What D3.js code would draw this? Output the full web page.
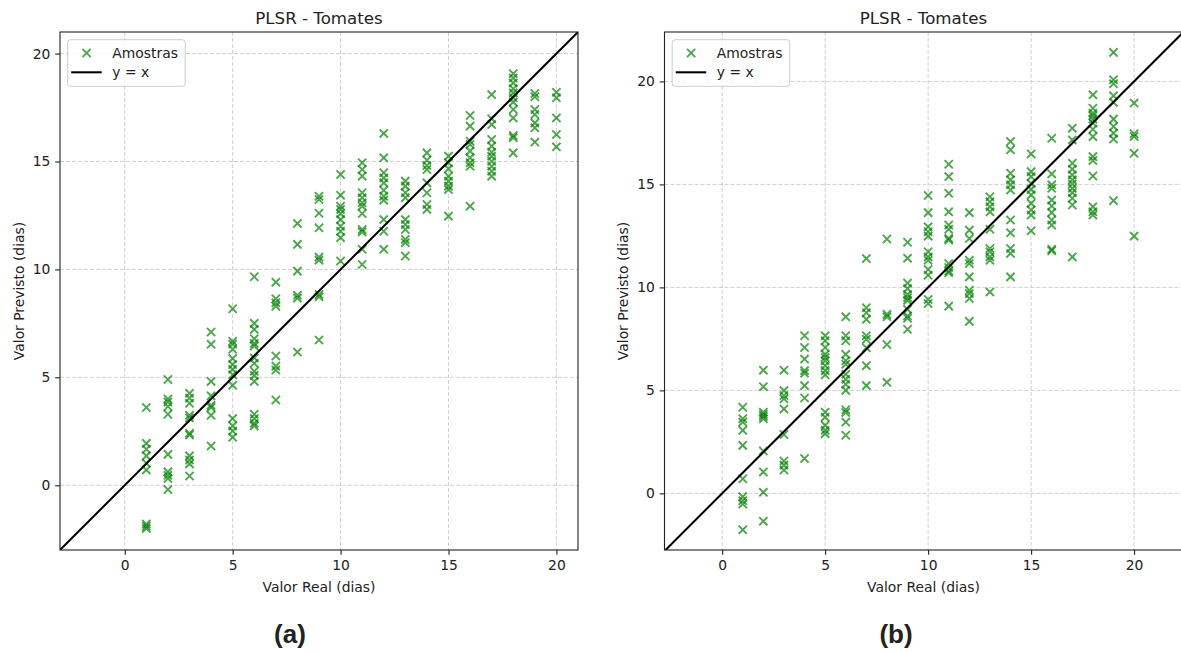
<!DOCTYPE html>
<html>
<head>
<meta charset="utf-8">
<script src="https://cdn.jsdelivr.net/npm/d3@7"></script>
<style>
  html, body { margin: 0; padding: 0; background: #ffffff; }
  svg { display: block; }
  text { font-family: "DejaVu Sans", sans-serif; fill: #222; }
</style>
</head>
<body>
<script>
// ---------------- data ----------------
const titleText = "PLSR - Tomates";
const xLabelText = "Valor Real (dias)";
const yLabelText = "Valor Previsto (dias)";
const legendLabels = ["Amostras", "y = x"];
const panelLabels = ["(a)", "(b)"];
const tickValues = [0, 5, 10, 15, 20];
const diasReais = [1, 2, 3, 4, 5, 6, 7, 8, 9, 10, 11, 12, 13, 14, 15, 16, 17, 18, 19, 20];

// predicted values for panel (a), one list per real day
const previstoA = [
  [3.6, 1.94, 1.67, 1.36, 1.02, 0.71, -1.8, -1.9, -2.0],
  [4.9, 4.0, 3.86, 3.65, 3.29, 1.43, 0.62, 0.46, 0.31, -0.2],
  [4.26, 4.04, 3.8, 3.24, 3.12, 2.41, 2.33, 1.36, 1.17, 0.99, 0.43],
  [7.1, 6.53, 4.81, 4.14, 3.7, 3.6, 3.24, 1.82],
  [8.18, 6.67, 6.54, 6.3, 5.87, 5.59, 5.37, 5.12, 4.63, 3.09, 2.75, 2.51, 2.22],
  [9.66, 7.5, 7.22, 6.79, 6.57, 6.45, 5.9, 5.65, 5.28, 5.09, 4.81, 3.29, 3.09, 2.87, 2.75],
  [9.41, 8.64, 8.46, 8.3, 5.99, 5.52, 5.34, 3.95],
  [12.13, 11.16, 9.92, 8.8, 8.67, 6.17],
  [13.39, 13.24, 12.6, 11.93, 10.57, 10.43, 8.84, 8.73, 6.73],
  [14.4, 13.44, 12.93, 12.78, 12.58, 12.31, 12.0, 11.77, 11.47, 10.39],
  [14.94, 14.63, 14.32, 13.55, 13.32, 13.09, 12.93, 12.59, 11.85, 11.74, 10.93, 10.23],
  [16.3, 15.17, 14.48, 14.24, 14.01, 13.67, 13.39, 13.21, 12.31, 11.77, 10.93],
  [14.09, 13.86, 13.55, 13.32, 12.31, 12.08, 11.85, 11.39, 11.24, 10.62],
  [15.4, 15.06, 14.81, 14.63, 14.01, 13.55, 13.01, 12.78],
  [15.25, 14.94, 14.66, 14.32, 14.09, 13.86, 13.7, 12.47],
  [17.13, 16.64, 15.94, 15.79, 15.48, 15.17, 14.94, 14.78, 12.93],
  [18.1, 16.98, 16.71, 16.02, 15.71, 15.43, 15.25, 15.01, 14.78, 14.55, 14.32],
  [19.07, 18.87, 18.64, 18.37, 18.18, 17.95, 17.75, 17.41, 17.02, 16.2, 16.1, 15.4],
  [18.15, 18.0, 17.41, 17.18, 16.79, 16.56, 15.9],
  [18.21, 17.95, 17.02, 16.25, 15.68]
];

// predicted values for panel (b), one list per real day
const previstoB = [
  [4.18, 3.62, 3.46, 3.06, 2.33, 0.71, -0.16, -0.36, -0.52, -1.77],
  [5.98, 5.18, 3.94, 3.83, 3.73, 3.62, 2.06, 1.04, 0.05, -1.35],
  [5.98, 4.99, 4.75, 4.59, 4.1, 2.86, 1.57, 1.37, 1.13],
  [7.65, 7.08, 6.52, 5.96, 5.83, 5.23, 4.63, 1.69],
  [7.65, 7.41, 7.08, 6.75, 6.6, 6.44, 6.2, 5.96, 5.76, 3.94, 3.7, 3.3, 3.06, 2.9],
  [8.57, 7.65, 7.41, 6.75, 6.44, 6.27, 5.78, 5.54, 5.3, 5.0, 4.06, 3.93, 3.46, 2.82],
  [11.4, 9.01, 8.77, 8.45, 7.65, 7.48, 7.07, 6.2, 5.23],
  [12.35, 8.69, 8.57, 7.23, 5.39],
  [12.19, 11.42, 10.21, 9.94, 9.65, 9.5, 9.37, 8.93, 8.61, 8.5, 7.97],
  [14.46, 13.63, 12.94, 12.7, 12.49, 11.73, 11.48, 11.32, 10.87, 10.59, 9.41, 9.22],
  [15.98, 15.38, 14.57, 13.67, 13.03, 12.82, 12.38, 12.3, 11.16, 10.97, 10.8, 10.71, 9.09],
  [13.63, 12.78, 12.37, 11.32, 11.16, 10.51, 9.86, 9.7, 9.46, 8.35],
  [14.4, 14.16, 13.92, 13.67, 12.82, 11.89, 11.73, 11.48, 11.32, 9.78],
  [17.08, 16.68, 15.54, 15.22, 14.98, 14.73, 13.27, 12.65, 11.89, 11.65, 10.51],
  [16.48, 15.62, 15.38, 15.05, 14.76, 14.49, 14.08, 13.76, 13.51, 12.75],
  [17.24, 15.51, 14.98, 14.81, 14.24, 13.95, 13.63, 13.27, 13.03, 11.85, 11.78],
  [17.73, 17.16, 16.03, 15.74, 15.46, 15.22, 15.02, 14.81, 14.6, 14.33, 14.0, 11.48],
  [19.35, 18.7, 18.46, 18.33, 18.17, 17.98, 17.68, 17.32, 16.35, 16.16, 15.41, 13.92, 13.67, 13.51],
  [21.41, 20.08, 19.89, 19.3, 18.98, 18.17, 17.81, 17.49, 17.2, 14.21],
  [18.95, 17.46, 17.33, 16.51, 12.49]
];

// axis limits
const limitsA = { x: [-3, 21], y: [-3, 21] };
const limitsB = { x: [-2.8, 22.35], y: [-2.75, 22.4] };

// ---------------- drawing ----------------
const W = 1181, H = 652;
const svg = d3.select("body").append("svg").attr("width", W).attr("height", H);

const FS = 13.89;
const tickLen = 4.86, tickPad = 4.86;
const green = "#008000";

function toPoints(pred) {
  const pts = [];
  diasReais.forEach((d, i) => pred[i].forEach(v => pts.push({ x: d, y: v })));
  return pts;
}

function xMarker(s) {
  return `M${-s},${-s}L${s},${s}M${-s},${s}L${s},${-s}`;
}

function drawPanel(id, left, top, width, height, limits, pred, panelLabel, panelCx) {
  const g = svg.append("g");
  const x = d3.scaleLinear().domain(limits.x).range([left, left + width]);
  const y = d3.scaleLinear().domain(limits.y).range([top + height, top]);

  const clipId = "clip" + id;
  svg.append("clipPath").attr("id", clipId)
    .append("rect").attr("x", left).attr("y", top).attr("width", width).attr("height", height);

  // grid
  const grid = g.append("g").attr("clip-path", `url(#${clipId})`);
  grid.selectAll("line.gx").data(tickValues).join("line")
    .attr("x1", d => x(d)).attr("x2", d => x(d))
    .attr("y1", top).attr("y2", top + height)
    .attr("stroke", "#b0b0b0").attr("stroke-opacity", 0.6)
    .attr("stroke-width", 1).attr("stroke-dasharray", "4,2");
  grid.selectAll("line.gy").data(tickValues).join("line")
    .attr("y1", d => y(d)).attr("y2", d => y(d))
    .attr("x1", left).attr("x2", left + width)
    .attr("stroke", "#b0b0b0").attr("stroke-opacity", 0.6)
    .attr("stroke-width", 1).attr("stroke-dasharray", "4,2");

  // points
  const pts = toPoints(pred);
  const plot = g.append("g").attr("clip-path", `url(#${clipId})`);
  plot.selectAll("path.pt").data(pts).join("path")
    .attr("class", "pt")
    .attr("transform", d => `translate(${x(d.x)},${y(d.y)})`)
    .attr("d", xMarker(4.1))
    .attr("stroke", green).attr("stroke-opacity", 0.7)
    .attr("stroke-width", 1.9).attr("fill", "none");

  // y = x line
  const lo = Math.min(limits.x[0], limits.y[0]);
  const hi = Math.max(limits.x[1], limits.y[1]);
  plot.append("path")
    .datum([lo, hi])
    .attr("d", d3.line().x(d => x(d)).y(d => y(d)))
    .attr("stroke", "#000").attr("stroke-width", 2.05).attr("fill", "none");

  // axes
  const ax = g.append("g").attr("transform", `translate(0,${top + height})`)
    .call(d3.axisBottom(x).tickValues(tickValues).tickSize(tickLen).tickPadding(tickPad).tickSizeOuter(0));
  const ay = g.append("g").attr("transform", `translate(${left},0)`)
    .call(d3.axisLeft(y).tickValues(tickValues).tickSize(tickLen).tickPadding(tickPad).tickSizeOuter(0));
  [ax, ay].forEach(a => {
    a.select(".domain").remove();
    a.selectAll(".tick line").attr("stroke", "#222").attr("stroke-width", 1.1);
    a.selectAll(".tick text").style("font-family", "DejaVu Sans").style("font-size", FS + "px").attr("fill", "#222");
  });

  // spines
  g.append("rect").attr("x", left).attr("y", top).attr("width", width).attr("height", height)
    .attr("fill", "none").attr("stroke", "#222").attr("stroke-width", 1.1);

  // title
  g.append("text").attr("x", left + width / 2).attr("y", top - 8.5)
    .attr("text-anchor", "middle").style("font-size", "16.67px").text(titleText);
  // x label
  g.append("text").attr("x", left + width / 2).attr("y", top + height + 41.5)
    .attr("text-anchor", "middle").style("font-size", FS + "px").text(xLabelText);
  // y label
  g.append("text").attr("transform", `translate(${left - 36.5},${top + height / 2}) rotate(-90)`)
    .attr("text-anchor", "middle").style("font-size", FS + "px").text(yLabelText);

  // legend
  const lx = left + 7.7, ly = top + 7.7;
  const lg = g.append("g");
  lg.append("rect").attr("x", lx).attr("y", ly).attr("width", 117.5).attr("height", 46.6)
    .attr("rx", 3).attr("fill", "#fff").attr("fill-opacity", 0.8)
    .attr("stroke", "#cccccc").attr("stroke-width", 1);
  const row1 = ly + 13.3, row2 = ly + 32.6;
  lg.append("path").attr("transform", `translate(${lx + 18.9},${row1})`)
    .attr("d", xMarker(4.1)).attr("stroke", green).attr("stroke-opacity", 0.7)
    .attr("stroke-width", 1.9).attr("fill", "none");
  lg.append("line").attr("x1", lx + 3.5).attr("x2", lx + 34).attr("y1", row2).attr("y2", row2)
    .attr("stroke", "#000").attr("stroke-width", 2.05);
  lg.append("text").attr("x", lx + 44.6).attr("y", row1 + 4.8).style("font-size", FS + "px").text(legendLabels[0]);
  lg.append("text").attr("x", lx + 44.6).attr("y", row2 + 4.8).style("font-size", FS + "px").text(legendLabels[1]);

  // panel label
  svg.append("text").attr("x", panelCx).attr("y", 643)
    .attr("text-anchor", "middle")
    .style("font-family", "Liberation Sans, Arial, sans-serif")
    .style("font-weight", "bold").style("font-size", "26px").attr("fill", "#000")
    .text(panelLabel);
}

drawPanel("A", 60, 32, 518, 518, limitsA, previstoA, panelLabels[0], 290);
drawPanel("B", 664.5, 32, 518, 518, limitsB, previstoB, panelLabels[1], 896);
</script>
</body>
</html>
